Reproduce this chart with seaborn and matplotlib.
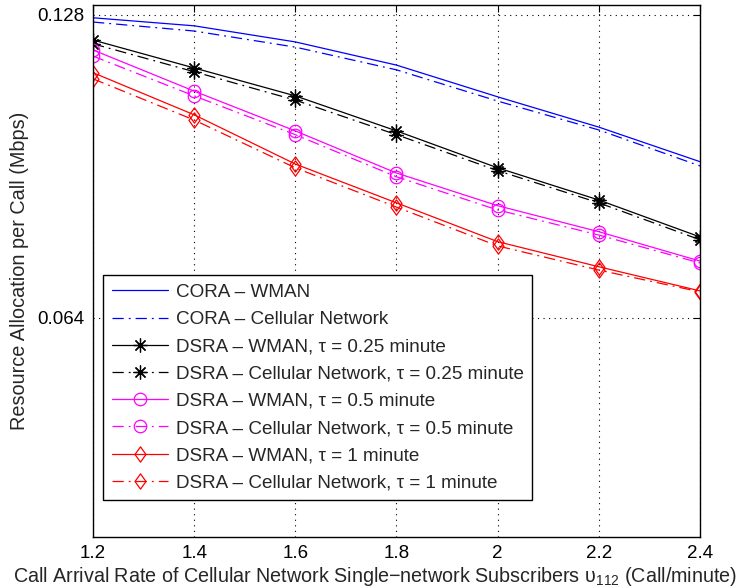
import matplotlib
matplotlib.use("Agg")
import matplotlib.pyplot as plt
from matplotlib.path import Path
import seaborn as sns
import pandas as pd

# Call arrival rate (Call/minute)
arrival_rate = [1.2, 1.4, 1.6, 1.8, 2.0, 2.2, 2.4]
x_tick_labels = ["1.2", "1.4", "1.6", "1.8", "2", "2.2", "2.4"]
y_ticks = [0.064, 0.128]
y_tick_labels = ["0.064", "0.128"]

# Resource allocation per call (Mbps)
cora_wman = [0.1274, 0.1257, 0.1223, 0.1174, 0.1107, 0.1043, 0.0970]
cora_cell = [0.1265, 0.1246, 0.1212, 0.1164, 0.1098, 0.1037, 0.0961]
dsra_wman_025 = [0.1227, 0.1168, 0.1109, 0.1035, 0.0957, 0.0889, 0.0811]
dsra_cell_025 = [0.1219, 0.1160, 0.1100, 0.1027, 0.0951, 0.0883, 0.0805]
dsra_wman_05 = [0.1206, 0.1119, 0.1035, 0.0946, 0.0877, 0.0822, 0.0760]
dsra_cell_05 = [0.1193, 0.1109, 0.1027, 0.0938, 0.0868, 0.0815, 0.0756]
dsra_wman_1 = [0.1158, 0.1069, 0.0965, 0.0883, 0.0801, 0.0748, 0.0697]
dsra_cell_1 = [0.1145, 0.1058, 0.0957, 0.0874, 0.0792, 0.0741, 0.0695]

labels = [
    "CORA – WMAN",
    "CORA – Cellular Network",
    "DSRA – WMAN, τ = 0.25 minute",
    "DSRA – Cellular Network, τ = 0.25 minute",
    "DSRA – WMAN, τ = 0.5 minute",
    "DSRA – Cellular Network, τ = 0.5 minute",
    "DSRA – WMAN, τ = 1 minute",
    "DSRA – Cellular Network, τ = 1 minute",
]

sns.set_style("white")
plt.rcParams["font.family"] = ["Liberation Sans", "DejaVu Sans"]
plt.rcParams["mathtext.fontset"] = "custom"
plt.rcParams["mathtext.rm"] = "Liberation Sans"
plt.rcParams["mathtext.it"] = "Liberation Sans:italic"

# eight-spoke asterisk and a slightly tall diamond
asterisk = (8, 2, 0)
diamond = Path([(0, 1), (0.72, 0), (0, -1), (-0.72, 0), (0, 1)],
               [Path.MOVETO, Path.LINETO, Path.LINETO, Path.LINETO, Path.CLOSEPOLY])
dashdot = (0, (9, 4, 1.5, 4))

series = [
    (cora_wman, "#0000ff", "-", None, 0),
    (cora_cell, "#0000ff", dashdot, None, 0),
    (dsra_wman_025, "#000000", "-", asterisk, 10),
    (dsra_cell_025, "#000000", dashdot, asterisk, 10),
    (dsra_wman_05, "#ff00ff", "-", "o", 9),
    (dsra_cell_05, "#ff00ff", dashdot, "o", 9),
    (dsra_wman_1, "#ff0000", "-", diamond, 11),
    (dsra_cell_1, "#ff0000", dashdot, diamond, 11),
]

fig = plt.figure(figsize=(7.46, 5.88), dpi=100)
ax = fig.add_axes([0.1247, 0.0867, 0.8136, 0.9048])

for (vals, color, ls, marker, ms), label in zip(series, labels):
    df = pd.DataFrame({"rate": arrival_rate, "alloc": vals})
    kw = dict(color=color, linestyle=ls, linewidth=0.9, label=label)
    if marker is not None:
        kw.update(marker=marker, markersize=ms, markerfacecolor="none",
                  markeredgecolor=color, markeredgewidth=0.9)
    sns.lineplot(data=df, x="rate", y="alloc", ax=ax, **kw)

ax.set_xlim(1.2, 2.4)
ax.set_ylim(0.0177, 0.1301)
ax.set_xticks(arrival_rate)
ax.set_xticklabels(x_tick_labels)
ax.set_yticks(y_ticks)
ax.set_yticklabels(y_tick_labels)
ax.grid(True, color="#000000", linestyle=(0, (1, 4)), linewidth=0.8)
ax.tick_params(direction="in", length=5, width=0.8, top=True, right=True,
               labelsize=13.5, colors="#000000", pad=6)
for sp in ax.spines.values():
    sp.set_visible(True)
    sp.set_color("#000000")
    sp.set_linewidth(1.0)

ax.set_xlabel("Call Arrival Rate of Cellular Network Single−network Subscribers "
              r"υ$_{112}$ (Call/minute)", fontsize=14.2)
ax.xaxis.set_label_coords(0.4646, -0.052)
ax.set_ylabel("Resource Allocation per Call (Mbps)", fontsize=14.3, labelpad=6)

leg = ax.legend(loc="lower left", bbox_to_anchor=(0.0165, 0.0695),
                fontsize=13.6, frameon=True, fancybox=False, framealpha=1,
                edgecolor="#000000", handlelength=3.0, handletextpad=0.4,
                labelspacing=0.53, borderpad=0.45, borderaxespad=0)
leg.get_frame().set_linewidth(1.0)

fig.savefig("out.png", dpi=100)
